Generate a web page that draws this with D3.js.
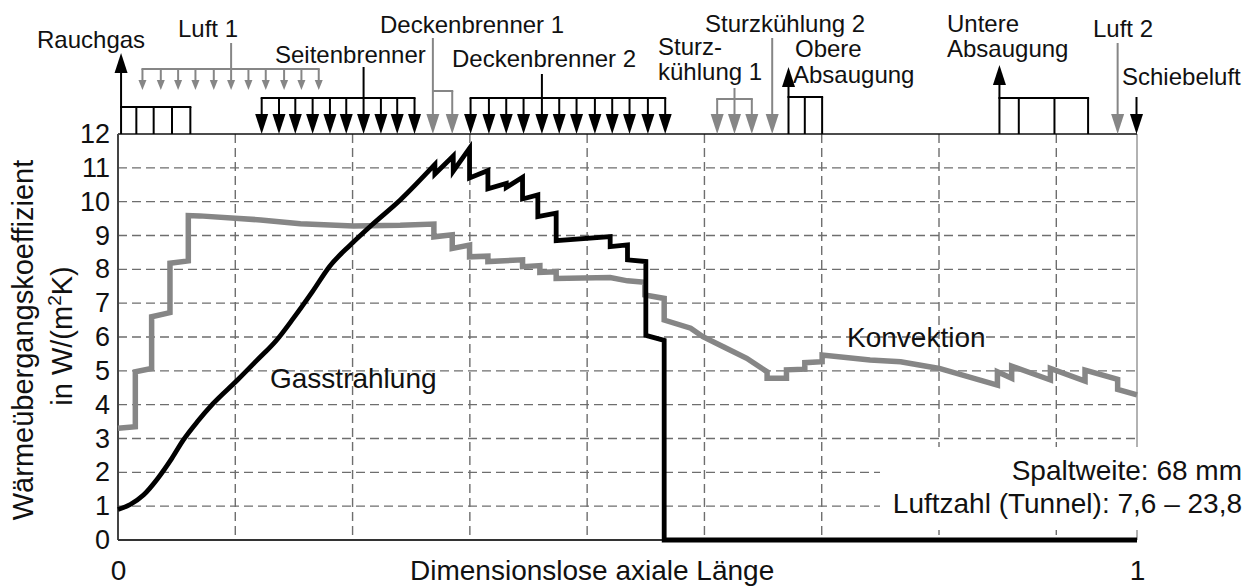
<!DOCTYPE html>
<html>
<head>
<meta charset="utf-8">
<script src="https://cdn.jsdelivr.net/npm/d3@7"></script>
<style>
  html, body { margin: 0; padding: 0; background: #fff; }
  svg { display: block; font-family: "Liberation Sans", Arial, sans-serif; }
</style>
</head>
<body>
<svg id="chart" width="1248" height="588"></svg>
<script>
// Heat transfer coefficient along the furnace, W/(m²K), over dimensionless axial length
const gasX = [0, .012, .025, .039, .053, .064, .078, .093, .117, .136, .156, .172, .191, .208, .228, .249, .277,
  .311, .311, .329, .329, .345, .345, .363, .363, .381, .381, .397, .397, .412, .412, .430, .430,
  .483, .483, .500, .500, .518, .518, .536, .536, 1];
const gasH = [0.9, 1.05, 1.33, 1.82, 2.42, 2.95, 3.5, 4.02, 4.72, 5.3, 5.92, 6.55, 7.35, 8.1, 8.72, 9.31, 10.05,
  11.1, 10.82, 11.35, 10.9, 11.58, 10.7, 10.92, 10.38, 10.54, 10.42, 10.72, 10.08, 10.2, 9.56, 9.66, 8.85,
  8.97, 8.67, 8.72, 8.28, 8.23, 6.05, 5.9, 0, 0];

const convX = [0, .017, .017, .033, .033, .051, .051, .069, .069, .080, .115, .140, .179, .231, .277, .310, .310,
  .328, .328, .345, .345, .363, .363, .397, .397, .414, .414, .430, .430, .483, .500, .517, .517, .536, .536,
  .562, .574, .594, .617, .637, .637, .656, .656, .674, .674, .691, .691, .738, .768, .806,
  .863, .863, .877, .877, .915, .915, .949, .949, .981, .981, 1];
const convH = [3.3, 3.35, 4.97, 5.07, 6.6, 6.72, 8.18, 8.25, 9.59, 9.58, 9.51, 9.46, 9.35, 9.28, 9.3, 9.34, 8.96,
  9.02, 8.62, 8.72, 8.37, 8.39, 8.23, 8.28, 8.08, 8.11, 7.91, 7.93, 7.73, 7.76, 7.66, 7.62, 7.24, 7.14, 6.5,
  6.26, 6.01, 5.71, 5.37, 4.97, 4.78, 4.78, 5.03, 5.05, 5.24, 5.27, 5.47, 5.32, 5.27, 5.07,
  4.58, 4.97, 4.78, 5.14, 4.73, 5.07, 4.70, 5.02, 4.75, 4.45, 4.29];

const yTicks = [0, 1, 2, 3, 4, 5, 6, 7, 8, 9, 10, 11, 12];
const xTickValues = [0, 1];
const xTickLabels = ["0", "1"];
// vertical grid every 10 m of furnace length
const gridX = [0.1151, 0.2302, 0.3453, 0.4604, 0.5755, 0.6906, 0.8057, 0.9208];

// Media inlets / outlets along the furnace (dimensionless position)
const rauchgasX = [0.003, 0.018, 0.035, 0.053, 0.071];
const luft1X = [0.024, 0.042, 0.059, 0.076, 0.094, 0.111, 0.128, 0.145, 0.163, 0.180, 0.197];
const seitenX = [0.141, 0.158, 0.174, 0.191, 0.208, 0.224, 0.241, 0.258, 0.274, 0.291];
const decken1X = [0.309, 0.328];
const decken2X = [0.346, 0.364, 0.381, 0.398, 0.416, 0.433, 0.450, 0.468, 0.485, 0.502, 0.520, 0.537];
const sturz1X = [0.588, 0.605, 0.622];
const sturz2X = [0.642];
const obereX = [0.658, 0.674, 0.691];
const untereX = [0.865, 0.884, 0.919, 0.952];
const luft2X = [0.981];
const schiebeX = [1.0];

const svg = d3.select("#chart");
const x = d3.scaleLinear().domain([0, 1]).range([118, 1137]);
const y = d3.scaleLinear().domain([0, 12]).range([540, 134]);
const GRID = "#6e6e6e", GRAY = "#868686", BLACK = "#000";

// grid
const grid = svg.append("g");
grid.selectAll("line.h").data(yTicks.filter(v => v > 0 && v < 12)).join("line")
  .attr("x1", x(0)).attr("x2", x(1)).attr("y1", d => y(d)).attr("y2", d => y(d))
  .attr("stroke", GRID).attr("stroke-width", 1.4).attr("stroke-dasharray", "9,5");
grid.selectAll("line.v").data(gridX).join("line")
  .attr("x1", d => x(d)).attr("x2", d => x(d)).attr("y1", y(12)).attr("y2", y(0))
  .attr("stroke", GRID).attr("stroke-width", 1.4).attr("stroke-dasharray", "9,5");
// right frame
svg.append("line").attr("x1", x(1)).attr("x2", x(1)).attr("y1", y(12)).attr("y2", y(0))
  .attr("stroke", "#999").attr("stroke-width", 1.5);

// parameter box
svg.append("rect").attr("x", 880).attr("y", 447).attr("width", 368).attr("height", 83).attr("fill", "#fff");
svg.append("text").attr("x", 1242).attr("y", 480).attr("text-anchor", "end")
  .attr("font-size", 28).attr("fill", "#111").text("Spaltweite: 68 mm");
svg.append("text").attr("x", 1242).attr("y", 513).attr("text-anchor", "end")
  .attr("font-size", 28).attr("fill", "#111").text("Luftzahl (Tunnel): 7,6 – 23,8");

// frame
svg.append("line").attr("x1", x(0)).attr("x2", x(1)).attr("y1", y(12)).attr("y2", y(12))
  .attr("stroke", "#111").attr("stroke-width", 1.5);
svg.append("line").attr("x1", x(0)).attr("x2", x(0)).attr("y1", y(12)).attr("y2", y(0))
  .attr("stroke", "#444").attr("stroke-width", 2);
svg.append("line").attr("x1", x(0)).attr("x2", x(1)).attr("y1", y(0)).attr("y2", y(0))
  .attr("stroke", "#333").attr("stroke-width", 2);

// axes labels via d3 axes
const yAxis = svg.append("g").attr("transform", `translate(${x(0)},0)`)
  .call(d3.axisLeft(y).tickValues(yTicks).tickSize(0).tickPadding(8).tickFormat(d3.format("d")));
yAxis.select(".domain").remove();
yAxis.selectAll("text").attr("font-size", 27).attr("fill", "#111")
  .attr("font-family", "'Liberation Sans', Arial, sans-serif");

const xAxis = svg.append("g").attr("transform", `translate(0,${y(0)})`)
  .call(d3.axisBottom(x).tickValues(xTickValues).tickSize(0).tickPadding(0)
    .tickFormat((d, i) => xTickLabels[i]));
xAxis.select(".domain").remove();
xAxis.selectAll("text").attr("font-size", 28).attr("fill", "#111").attr("dy", null).attr("y", 40)
  .attr("font-family", "'Liberation Sans', Arial, sans-serif");

svg.append("text").attr("x", 410).attr("y", 580).attr("font-size", 28).attr("fill", "#111")
  .text("Dimensionslose axiale Länge");

const yTitle = svg.append("text").attr("transform", "translate(33,340) rotate(-90)")
  .attr("text-anchor", "middle").attr("font-size", 29).attr("fill", "#111");
yTitle.text("Wärmeübergangskoeffizient");
const yTitle2 = svg.append("text").attr("transform", "translate(72,336) rotate(-90)")
  .attr("text-anchor", "middle").attr("font-size", 29).attr("fill", "#111");
yTitle2.append("tspan").text("in W/(m");
yTitle2.append("tspan").attr("font-size", 19).attr("dy", -11).text("2");
yTitle2.append("tspan").attr("dy", 11).text("K)");

// curves
const line = d3.line().x(d => x(d[0])).y(d => y(d[1]));
const smooth = d3.line().x(d => x(d[0])).y(d => y(d[1])).curve(d3.curveMonotoneX);
svg.append("path").datum(d3.zip(convX, convH)).attr("d", line)
  .attr("fill", "none").attr("stroke", GRAY).attr("stroke-width", 5.5);
// gas radiation: smooth rise up to the first burner peak, stepwise afterwards
const gasPts = d3.zip(gasX, gasH);
const gasPath = smooth(gasPts.slice(0, 18)) + line(gasPts.slice(17)).replace(/^M/, "L");
svg.append("path").attr("d", gasPath)
  .attr("fill", "none").attr("stroke", BLACK).attr("stroke-width", 4.8);

svg.append("text").attr("x", 270).attr("y", 388).attr("font-size", 28).attr("fill", "#111").text("Gasstrahlung");
svg.append("text").attr("x", 847).attr("y", 347).attr("font-size", 28).attr("fill", "#111").text("Konvektion");

// media supply / exhaust schematic above the plot
const ann = svg.append("g");
const TOP = y(12);
function seg(x1, y1, x2, y2, c, w) {
  ann.append("line").attr("x1", x1).attr("y1", y1).attr("x2", x2).attr("y2", y2)
    .attr("stroke", c).attr("stroke-width", w || 2);
}
function down(px, y0, tip, c, big) {
  const h = big ? 20 : 10, w = big ? 13 : 8;
  seg(px, y0, px, tip - h + 2, c);
  ann.append("path").attr("d", `M${px - w / 2},${tip - h}L${px + w / 2},${tip - h}L${px},${tip}Z`).attr("fill", c);
}
function up(px, y0, tip, c) {
  const h = 20, w = 13;
  seg(px, y0, px, tip + h - 2, c);
  ann.append("path").attr("d", `M${px - w / 2},${tip + h}L${px + w / 2},${tip + h}L${px},${tip}Z`).attr("fill", c);
}
function comb(xs, barY, c) {
  seg(x(xs[0]) - 1, barY, x(xs[xs.length - 1]) + 1, barY, c);
  xs.slice(1).forEach(v => seg(x(v), barY, x(v), TOP, c));
}

// Rauchgas (flue gas exhaust)
up(x(rauchgasX[0]), TOP, 53, BLACK);
comb(rauchgasX, 107, BLACK);
// Luft 1
seg(x(luft1X[5]), 43, x(luft1X[5]), 69, GRAY);
seg(x(luft1X[0]) - 1, 69, x(luft1X[luft1X.length - 1]) + 1, 69, GRAY);
luft1X.forEach(v => down(x(v), 69, 90, GRAY, false));
// Seitenbrenner
seg(x(seitenX[6]), 67, x(seitenX[6]), 98, BLACK);
seg(x(seitenX[0]) - 1, 98, x(seitenX[seitenX.length - 1]) + 1, 98, BLACK);
seitenX.forEach(v => down(x(v), 98, TOP, BLACK, true));
// Deckenbrenner 1
down(x(decken1X[0]), 38, TOP, GRAY, true);
seg(x(decken1X[0]), 91, x(decken1X[1]) + 1, 91, GRAY);
down(x(decken1X[1]), 91, TOP, GRAY, true);
// Deckenbrenner 2
seg(x(decken2X[4]), 74, x(decken2X[4]), 98, BLACK);
seg(x(decken2X[0]) - 1, 98, x(decken2X[decken2X.length - 1]) + 1, 98, BLACK);
decken2X.forEach(v => down(x(v), 98, TOP, BLACK, true));
// Sturzkühlung 1
seg(x(sturz1X[1]), 88, x(sturz1X[1]), 99, GRAY);
seg(x(sturz1X[0]) - 1, 99, x(sturz1X[2]) + 1, 99, GRAY);
sturz1X.forEach(v => down(x(v), 99, TOP, GRAY, true));
// Sturzkühlung 2
down(x(sturz2X[0]), 38, TOP, GRAY, true);
// Obere Absaugung
up(x(obereX[0]), TOP, 67, BLACK);
comb(obereX, 97, BLACK);
// Untere Absaugung
up(x(untereX[0]), TOP, 65, BLACK);
comb(untereX, 98, BLACK);
// Luft 2
down(x(luft2X[0]), 43, TOP, GRAY, true);
// Schiebeluft
down(x(schiebeX[0]) - 0.5, 97, TOP, BLACK, true);

const labels = [
  ["Rauchgas", 37, 48], ["Luft 1", 178, 37], ["Seitenbrenner", 275, 63],
  ["Deckenbrenner 1", 380, 33], ["Deckenbrenner 2", 452, 67],
  ["Sturz-", 658, 55], ["kühlung 1", 658, 80], ["Sturzkühlung 2", 705, 32],
  ["Obere", 795, 57], ["Absaugung", 793, 83], ["Untere", 947, 32], ["Absaugung", 947, 57],
  ["Luft 2", 1093, 37], ["Schiebeluft", 1122, 85]
];
ann.selectAll("text").data(labels).join("text")
  .attr("x", d => d[1]).attr("y", d => d[2]).attr("font-size", 24).attr("fill", "#111")
  .text(d => d[0]);
</script>
</body>
</html>
